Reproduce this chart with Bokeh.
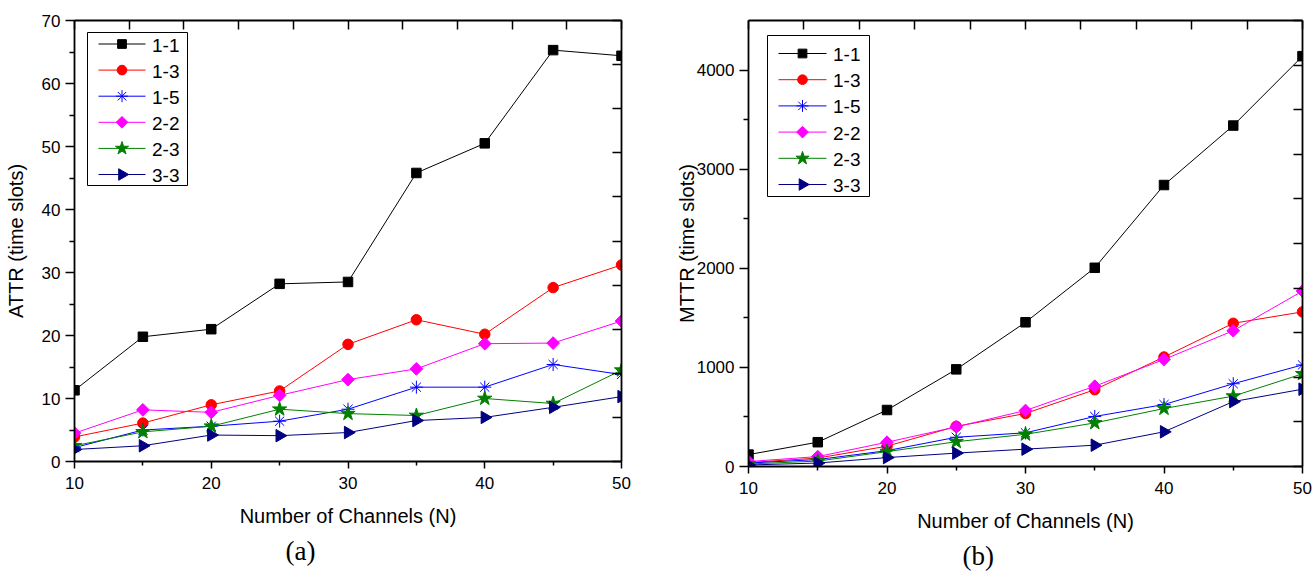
import math
from bokeh.plotting import figure
from bokeh.layouts import row
from bokeh.models import LinearAxis, FixedTicker, Range1d, Title
from bokeh.core.properties import value
from bokeh.embed import file_html
from bokeh.resources import INLINE

# Number of channels on the x axis
channels = [10, 15, 20, 25, 30, 35, 40, 45, 50]

# Series names
series_names = ["1-1", "1-3", "1-5", "2-2", "2-3", "3-3"]

# Average time to rendezvous (time slots)
attr_1_1 = [11.3, 19.8, 21.0, 28.2, 28.5, 45.8, 50.5, 65.3, 64.4]
attr_1_3 = [3.9, 6.1, 9.0, 11.2, 18.6, 22.5, 20.2, 27.6, 31.2]
attr_1_5 = [2.2, 5.0, 5.6, 6.4, 8.3, 11.8, 11.8, 15.4, 13.8]
attr_2_2 = [4.5, 8.2, 7.8, 10.5, 13.0, 14.7, 18.7, 18.8, 22.3]
attr_2_3 = [2.5, 4.7, 5.6, 8.3, 7.6, 7.3, 10.0, 9.2, 14.5]
attr_3_3 = [1.9, 2.5, 4.2, 4.1, 4.6, 6.5, 7.0, 8.6, 10.3]

# Maximum time to rendezvous (time slots)
mttr_1_1 = [120, 245, 570, 980, 1455, 2005, 2840, 3440, 4140]
mttr_1_3 = [40, 85, 205, 405, 535, 775, 1105, 1445, 1560]
mttr_1_5 = [35, 70, 160, 295, 340, 505, 625, 835, 1025]
mttr_2_2 = [50, 100, 245, 400, 565, 810, 1080, 1370, 1770]
mttr_2_3 = [25, 55, 150, 250, 325, 440, 585, 710, 935]
mttr_3_3 = [15, 35, 90, 135, 175, 215, 350, 655, 780]

attr_series = [attr_1_1, attr_1_3, attr_1_5, attr_2_2, attr_2_3, attr_3_3]
mttr_series = [mttr_1_1, mttr_1_3, mttr_1_5, mttr_2_2, mttr_2_3, mttr_3_3]

# Per-series styling: colour, marker, size, rotation
styles = [
    ("#000000", "square", 9.5, 0.0),
    ("#FF0000", "circle", 10.5, 0.0),
    ("#0000FF", "asterisk", 13, 0.0),
    ("#FF00FF", "square", 9, math.pi / 4),
    ("#008000", "star", 15, 0.0),
    ("#000080", "triangle", 12.5, -math.pi / 2),
]

SANS = "Liberation Sans"
SERIF = "Liberation Serif"


def draw_key(p, box, first_row, pitch, line_x, mark_x, text_x):
    """Key drawn in frame-pixel space (origin at the frame's top-left)."""
    bl, bt, bw, bh = box
    p.quad(left=[bl], right=[bl + bw], top=[bt], bottom=[bt + bh],
           fill_color="white", line_color="black", line_width=1,
           x_range_name="px", y_range_name="py")
    for i, (name, (color, marker, size, ang)) in enumerate(zip(series_names, styles)):
        ry = first_row + i * pitch
        p.segment(x0=[line_x[0]], y0=[ry], x1=[line_x[1]], y1=[ry],
                  line_color=color, line_width=1,
                  x_range_name="px", y_range_name="py")
        p.scatter(x=[mark_x], y=[ry], marker=marker, size=size * 0.92,
                  angle=ang, fill_color=color, line_color=color,
                  x_range_name="px", y_range_name="py")
        p.text(x=[text_x], y=[ry + 1], text=[name], text_font=value(SANS),
               text_font_size="19px", text_color="black",
               text_baseline="middle", text_align="left",
               x_range_name="px", y_range_name="py")


def build(series, y_end, y_major, y_minor, right_step, ylabel, caption,
          caption_offset, left, fw, right, top, fh, bottom, ylabel_standoff,
          key):
    p = figure(frame_width=fw, frame_height=fh,
               min_border_left=left, min_border_right=right,
               min_border_top=top, min_border_bottom=bottom,
               x_range=Range1d(10, 50), y_range=Range1d(0, y_end),
               output_backend="svg", toolbar_location=None,
               background_fill_color="white", border_fill_color="white")
    p.extra_x_ranges = {"px": Range1d(0, fw)}
    p.extra_y_ranges = {"py": Range1d(fh, 0)}
    p.grid.visible = False
    p.outline_line_color = None

    # bottom axis
    xa = p.xaxis[0]
    xa.ticker = FixedTicker(ticks=[10, 20, 30, 40, 50],
                            minor_ticks=[15, 25, 35, 45])
    xa.axis_label = "Number of Channels (N)"
    # left axis
    ya = p.yaxis[0]
    ya.ticker = FixedTicker(ticks=y_major, minor_ticks=y_minor)
    ya.axis_label = ylabel
    for ax in (xa, ya):
        ax.axis_line_width = 1.8
        ax.axis_line_color = "black"
        ax.major_tick_line_color = "black"
        ax.minor_tick_line_color = "black"
        ax.major_tick_line_width = 1.5
        ax.minor_tick_line_width = 1.5
        ax.major_tick_in = 0
        ax.minor_tick_in = 0
        ax.major_label_text_font = SANS
        ax.major_label_text_font_size = "17px"
        ax.major_label_text_color = "black"
        ax.axis_label_text_font = SANS
        ax.axis_label_text_font_size = "20px"
        ax.axis_label_text_font_style = "normal"
        ax.axis_label_text_color = "black"
    xa.major_tick_out = 7
    xa.minor_tick_out = 4
    xa.major_label_standoff = 8
    xa.axis_label_standoff = 13
    ya.major_tick_out = 9
    ya.minor_tick_out = 5
    ya.major_label_standoff = 5
    ya.axis_label_standoff = ylabel_standoff

    # top and right frame axes: inward ticks, no labels
    top_ax = LinearAxis(ticker=FixedTicker(ticks=list(range(10, 51, 4)),
                                           minor_ticks=[]))
    right_ax = LinearAxis(ticker=FixedTicker(
        ticks=[i * right_step for i in range(int(y_end / right_step) + 1)],
        minor_ticks=[]))
    for ax in (top_ax, right_ax):
        ax.axis_line_width = 1.8
        ax.axis_line_color = "black"
        ax.major_tick_line_width = 1.5
        ax.major_tick_line_color = "black"
        ax.major_tick_in = 9
        ax.major_tick_out = 0
        ax.minor_tick_in = 0
        ax.minor_tick_out = 0
        ax.major_label_text_font_size = "0px"
        ax.major_label_standoff = 0
        ax.major_label_text_alpha = 0
    p.add_layout(top_ax, "above")
    p.add_layout(right_ax, "right")

    for ys, (color, marker, size, ang) in zip(series, styles):
        p.line(channels, ys, line_color=color, line_width=1)
        p.scatter(channels, ys, marker=marker, size=size, angle=ang,
                  fill_color=color, line_color=color, line_width=1)

    draw_key(p, **key)

    p.add_layout(Title(text=caption, align="left", offset=caption_offset,
                       text_font=SERIF, text_font_size="27px",
                       text_font_style="normal", text_color="black",
                       standoff=8), "below")
    return p


p1 = build(attr_series, 70, [0, 10, 20, 30, 40, 50, 60, 70],
           [5, 15, 25, 35, 45, 55, 65], 7, "ATTR (time slots)", "(a)", 211,
           left=74, fw=547, right=34, top=20, fh=441, bottom=110,
           ylabel_standoff=12,
           key=dict(box=(13, 12, 100, 153), first_row=23.5, pitch=26.1,
                    line_x=(24, 71), mark_x=47.5, text_x=77.5))

p2 = build(mttr_series, 4500, [0, 1000, 2000, 3000, 4000],
           [500, 1500, 2500, 3500], 450, "MTTR (time slots)", "(b)", 214,
           left=93, fw=554, right=10, top=13, fh=446, bottom=112,
           ylabel_standoff=-4,
           key=dict(box=(19, 15, 102, 161), first_row=33, pitch=26.2,
                    line_x=(30, 78), mark_x=54, text_x=84.5))

layout = row(p1, p2, spacing=0)

with open("out.html", "w") as f:
    f.write(file_html(layout, INLINE))
